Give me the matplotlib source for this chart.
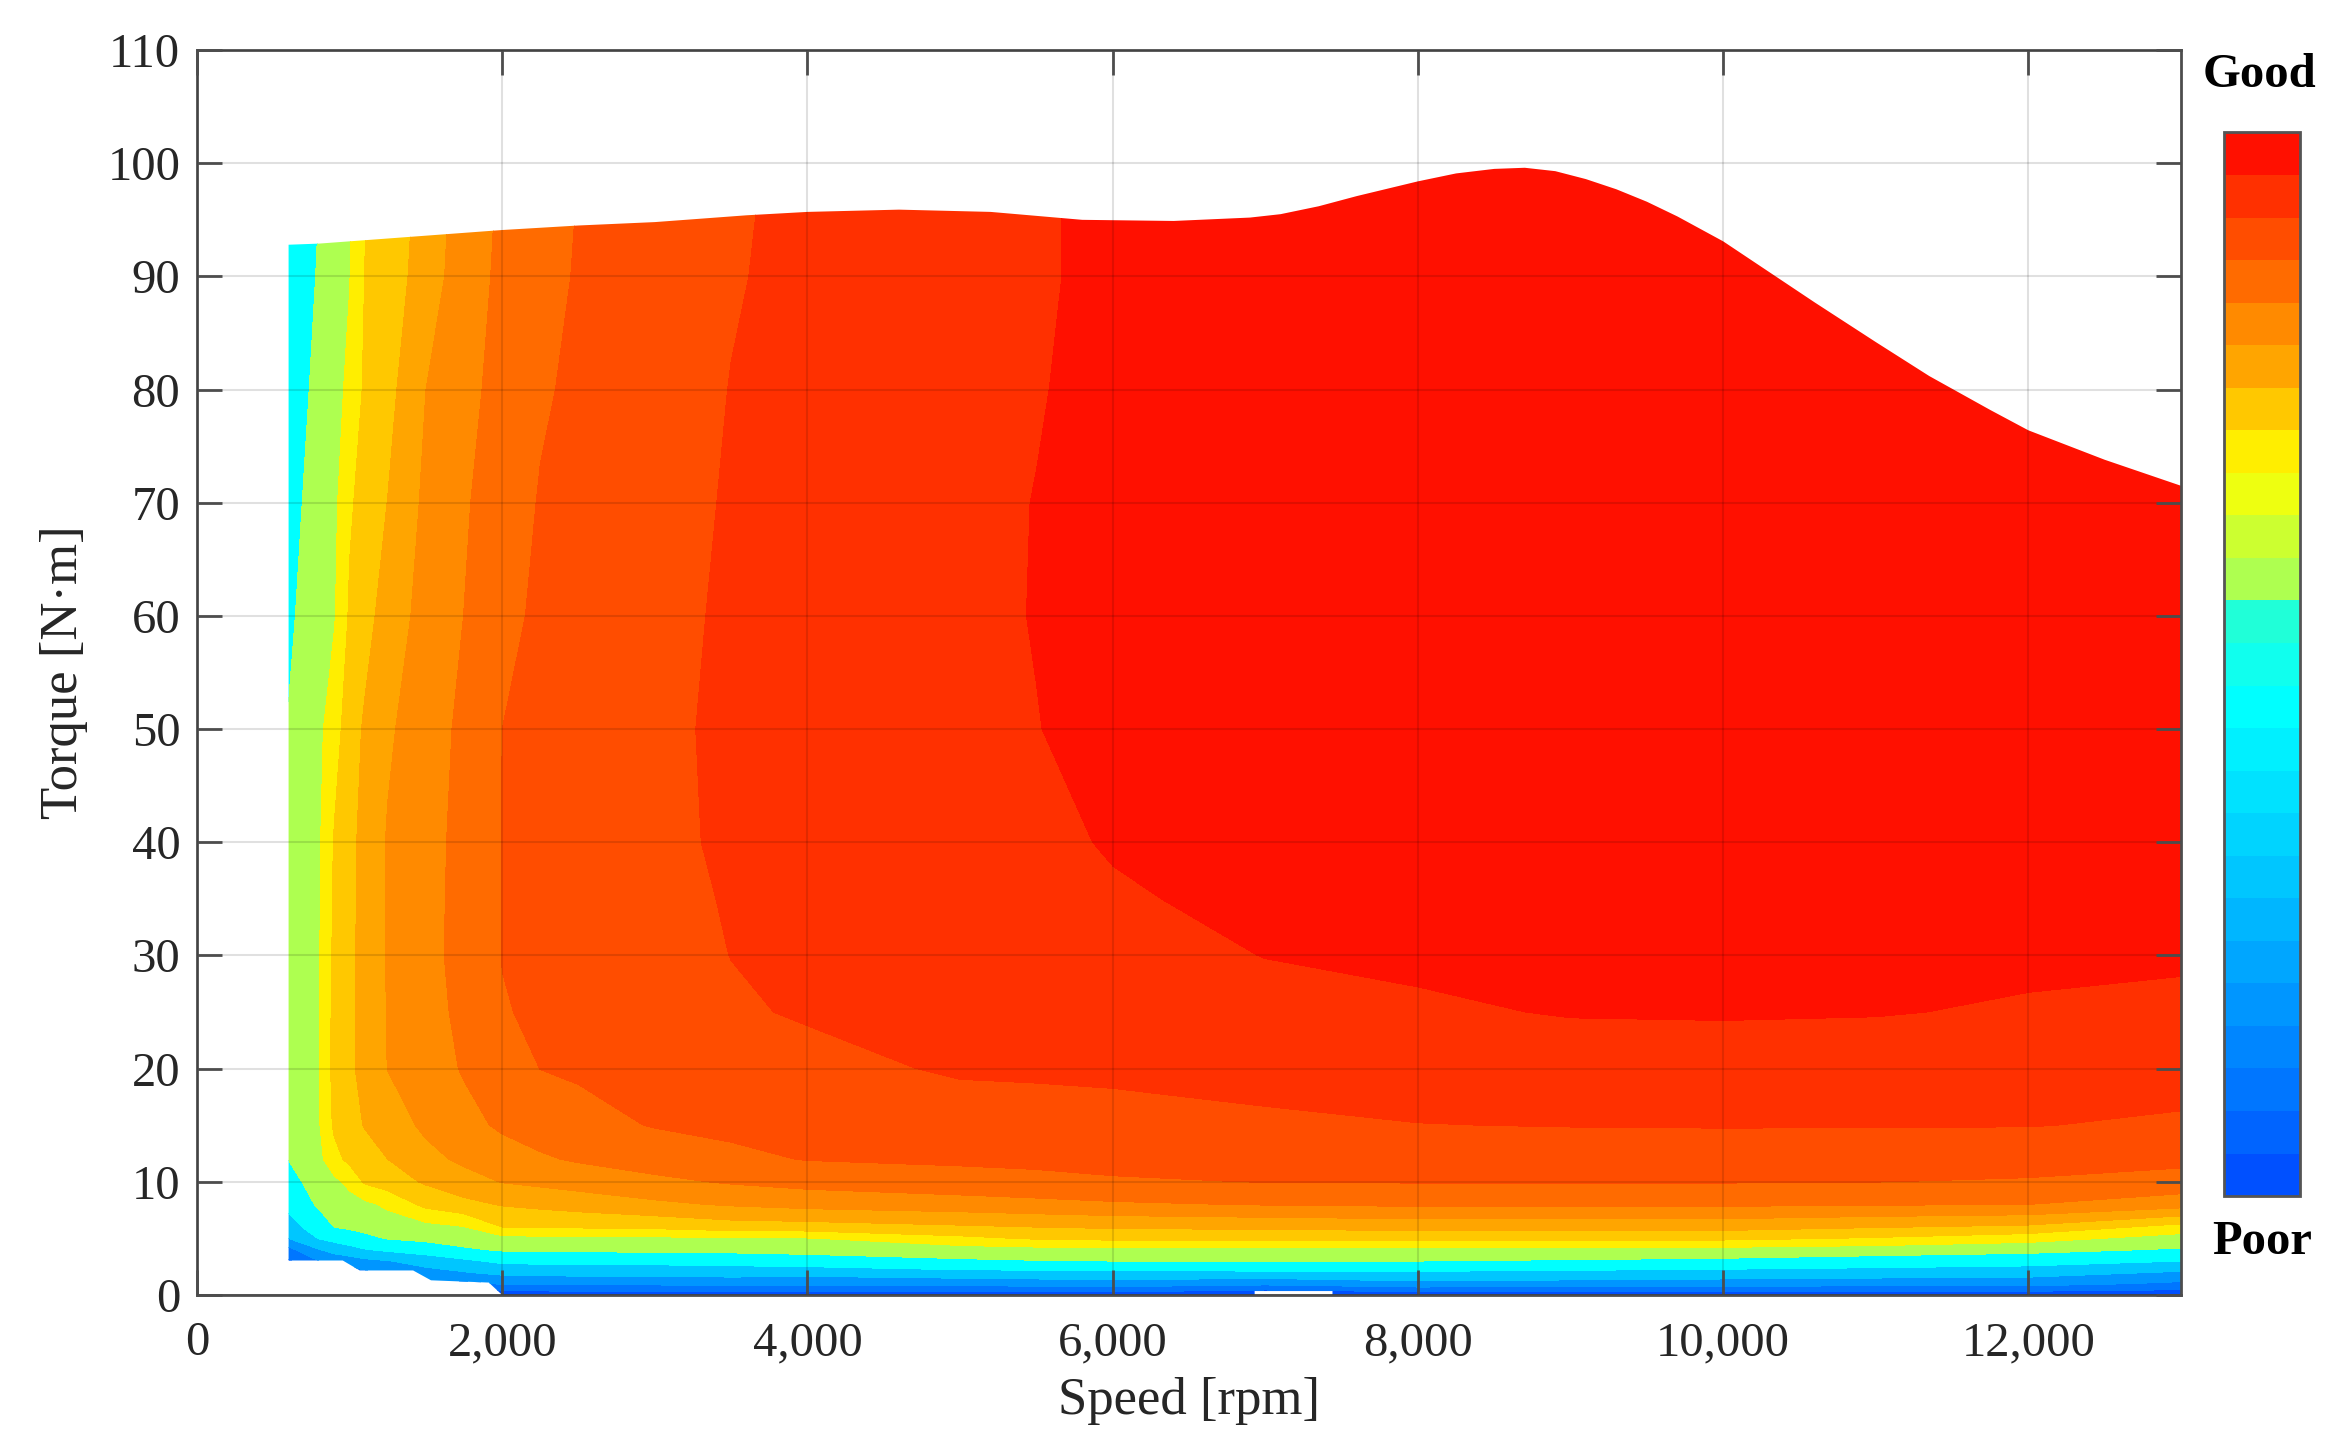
import matplotlib.pyplot as plt
from matplotlib.colors import ListedColormap, Normalize
from matplotlib.cm import ScalarMappable
from matplotlib.path import Path
from matplotlib.patches import PathPatch
from matplotlib.ticker import FuncFormatter
import numpy as np

# efficiency map (speed in rpm, torque in N*m, value ~ efficiency %)
speed = [600, 800, 900, 1000, 1100, 1250, 1500, 1750, 2000, 2250, 2500, 3000,
         3500, 4000, 5000, 5500, 6000, 7000, 8000, 9000, 10000, 11000, 12000, 13000]
torque = [0, 1, 2, 3, 4, 5, 6, 8, 10, 12, 15, 20, 25, 30, 35, 40, 50, 60, 70, 80, 90, 100]

# one column per speed, values listed from torque 0 up to 100
eff_by_speed = [
    [78.5, 79.3, 80.0, 80.9, 81.7, 83.0, 83.6, 84.25, 84.65, 85.02, 85.2, 85.4, 85.45, 85.45, 85.35, 85.25, 85.05, 84.84, 84.67, 84.46, 84.23, 84.0],
    [79.5, 80.3, 81.1, 82.0, 82.95, 84.05, 84.5, 85.14, 85.45, 85.74, 85.93, 85.98, 85.96, 85.94, 85.91, 85.88, 85.78, 85.56, 85.41, 85.26, 85.10, 84.95],
    [79.5, 80.5, 81.5, 82.4, 83.35, 84.34, 85.01, 85.34, 85.76, 86.67, 87.18, 87.33, 87.29, 87.22, 87.15, 87.09, 86.58, 85.92, 85.77, 85.66, 85.54, 85.4],
    [79.5, 80.5, 81.5, 82.5, 83.65, 84.57, 85.12, 85.55, 86.3, 87.26, 87.64, 87.82, 87.80, 87.78, 87.75, 87.72, 87.52, 87.14, 86.86, 86.23, 85.97, 85.8],
    [79.8, 80.8, 81.8, 82.75, 83.94, 84.79, 85.23, 85.75, 87.13, 87.56, 88.06, 88.31, 88.32, 88.33, 88.33, 88.33, 88.14, 87.65, 87.39, 87.17, 87.02, 86.9],
    [80.5, 81.5, 82.4, 82.95, 84.18, 85.05, 85.4, 86.21, 87.51, 88.0, 88.49, 89.02, 89.05, 89.07, 89.08, 89.08, 88.86, 88.44, 88.02, 87.69, 87.46, 87.3],
    [81.0, 82.0, 82.7, 83.37, 84.52, 85.2, 85.67, 87.27, 88.12, 88.7, 89.2, 89.55, 89.63, 89.68, 89.67, 89.66, 89.55, 89.37, 89.21, 89.0, 88.48, 88.3],
    [80.5, 81.8, 82.95, 83.82, 84.86, 85.42, 85.95, 87.73, 88.61, 89.2, 89.72, 90.08, 90.24, 90.35, 90.32, 90.29, 90.21, 90.01, 89.89, 89.71, 89.54, 89.4],
    [80.3, 82.1, 83.3, 84.2, 85.1, 85.7, 87.0, 88.07, 89.04, 89.6, 90.14, 90.55, 90.95, 91.02, 91.02, 91.02, 91.0, 90.77, 90.53, 90.33, 90.2, 90.1],
    [80.35, 82.15, 83.35, 84.25, 85.12, 85.73, 87.05, 88.25, 89.22, 89.88, 90.43, 91.01, 91.12, 91.18, 91.2, 91.21, 91.21, 91.15, 91.06, 90.89, 90.69, 90.6],
    [80.4, 82.2, 83.4, 84.3, 85.15, 85.76, 87.1, 88.43, 89.41, 90.11, 90.72, 91.11, 91.24, 91.35, 91.39, 91.42, 91.42, 91.36, 91.27, 91.17, 91.08, 91.0],
    [80.4, 82.2, 83.4, 84.3, 85.2, 85.8, 87.2, 88.8, 89.78, 90.46, 91.05, 91.32, 91.53, 91.69, 91.76, 91.83, 91.85, 91.78, 91.7, 91.6, 91.51, 91.45],
    [80.5, 82.3, 83.5, 84.35, 85.25, 85.9, 87.5, 89.1, 90.1, 90.8, 91.2, 91.55, 91.9, 92.01, 92.06, 92.11, 92.13, 92.11, 92.07, 92.02, 91.94, 91.9],
    [80.5, 82.2, 83.44, 84.55, 85.31, 85.94, 87.56, 89.33, 90.33, 91.04, 91.3, 91.75, 92.08, 92.16, 92.23, 92.3, 92.35, 92.34, 92.3, 92.26, 92.2, 92.15],
    [80.5, 82.3, 83.75, 84.85, 85.55, 86.75, 87.85, 89.55, 90.62, 91.16, 91.57, 92.1, 92.3, 92.44, 92.56, 92.67, 92.77, 92.8, 92.78, 92.73, 92.67, 92.6],
    [80.45, 82.45, 83.77, 84.95, 85.66, 87.1, 88.0, 89.7, 90.76, 91.2, 91.65, 92.12, 92.34, 92.53, 92.72, 92.86, 92.98, 93.03, 93.02, 92.95, 92.9, 92.9],
    [80.4, 82.57, 83.78, 85.0, 85.77, 87.22, 88.11, 89.86, 90.9, 91.27, 91.72, 92.15, 92.38, 92.62, 92.93, 93.05, 93.25, 93.3, 93.3, 93.25, 93.2, 93.2],
    [80.0, 82.25, 83.88, 85.0, 85.74, 87.24, 88.2, 90.05, 91.02, 91.35, 91.85, 92.3, 92.66, 93.02, 93.15, 93.25, 93.4, 93.45, 93.45, 93.45, 93.4, 93.4],
    [80.3, 82.71, 83.9, 85.0, 85.71, 87.22, 88.33, 90.15, 91.05, 91.42, 91.98, 92.44, 92.88, 93.15, 93.25, 93.35, 93.45, 93.5, 93.5, 93.5, 93.5, 93.5],
    [80.3, 82.6, 83.8, 84.9, 85.69, 87.22, 88.33, 90.15, 91.05, 91.45, 92.03, 92.56, 93.05, 93.2, 93.3, 93.4, 93.5, 93.5, 93.5, 93.5, 93.5, 93.5],
    [80.3, 82.5, 83.7, 84.78, 85.67, 87.22, 88.33, 90.15, 91.05, 91.47, 92.05, 92.6, 93.07, 93.2, 93.3, 93.4, 93.5, 93.5, 93.5, 93.5, 93.5, 93.5],
    [80.3, 82.4, 83.6, 84.57, 85.48, 86.9, 88.05, 90.07, 91.01, 91.44, 92.04, 92.56, 93.04, 93.2, 93.3, 93.4, 93.5, 93.5, 93.5, 93.5, 93.5, 93.5],
    [80.3, 82.4, 83.44, 84.42, 85.27, 86.4, 87.8, 90.0, 90.91, 91.4, 92.03, 92.47, 92.92, 93.15, 93.25, 93.35, 93.45, 93.5, 93.5, 93.5, 93.5, 93.5],
    [80.3, 81.8, 82.9, 84.0, 84.9, 85.56, 86.6, 89.43, 90.64, 91.23, 91.87, 92.38, 92.83, 93.1, 93.2, 93.3, 93.4, 93.45, 93.45, 93.45, 93.45, 93.45],
]

# max torque envelope
env_speed = [600, 800, 1000, 1500, 2000, 2500, 3000, 3600, 4000, 4600, 5200, 5800, 6400,
             6900, 7100, 7350, 7600, 8000, 8250, 8500, 8700, 8900, 9100, 9300, 9500, 9700,
             10000, 10300, 10600, 11000, 11350, 11750, 12000, 12500, 13000]
env_torque = [92.8, 92.9, 93.1, 93.6, 94.1, 94.5, 94.8, 95.4, 95.7, 95.9, 95.7, 95.0, 94.9,
              95.2, 95.5, 96.2, 97.1, 98.4, 99.1, 99.5, 99.6, 99.3, 98.6, 97.7, 96.6, 95.3,
              93.1, 90.4, 87.7, 84.2, 81.2, 78.2, 76.4, 73.8, 71.5]

# lower edge of the mapped region
low_speed = [600, 955, 1066, 1416, 1533, 1912, 2000, 6930, 6930, 7440, 7440, 13000]
low_torque = [3.05, 3.05, 2.17, 2.17, 1.3, 1.1, 0, 0, 0.35, 0.35, 0, 0]

# colour scale, Poor -> Good
bar_colors = ['#0050FF', '#0064FF', '#0076FF', '#0086FF', '#0096FF', '#00A6FF', '#00B6FF',
              '#00C6FF', '#00D4FF', '#00E2FF', '#00F0FF', '#00FFFF', '#10FFEE', '#20FFD8',
              '#AEFF50', '#CCFF30', '#EEFF10', '#FFEE00', '#FFC800', '#FFA500', '#FF8A00',
              '#FF6B00', '#FF4D00', '#FF3000', '#FF1000']
levels = [70, 81, 82, 83, 84, 85, 86, 87, 88, 89, 90, 91, 92, 93, 95]
layer_idx = [0, 2, 4, 7, 11, 14, 17, 18, 19, 20, 21, 22, 23, 24]

plt.rcParams['font.family'] = ['Liberation Serif', 'DejaVu Serif']
txt = '#262626'

fig = plt.figure(figsize=(23.51, 14.51), dpi=100)
ax = fig.add_axes([0.0838, 0.1075, 0.8439, 0.858])

X, Y = np.meshgrid(speed, torque)
Z = np.array(eff_by_speed).T
cs = ax.contourf(X, Y, Z, levels=levels, colors=[bar_colors[i] for i in layer_idx],
                 antialiased=False, zorder=1)

outline = list(zip(low_speed, low_torque)) + list(zip(env_speed[::-1], env_torque[::-1]))
outline.append(outline[0])
clip = PathPatch(Path(outline), transform=ax.transData, facecolor='none', edgecolor='none')
ax.add_patch(clip)
cs.set_clip_path(clip)

ax.set_xlim(0, 13000)
ax.set_ylim(0, 110)
ax.set_xticks(np.arange(0, 13000, 2000))
ax.set_yticks(np.arange(0, 111, 10))
ax.xaxis.set_major_formatter(FuncFormatter(lambda v, p: f'{int(v):,}'))
ax.set_axisbelow(False)
ax.grid(True, color='k', alpha=0.12, lw=1.5)
ax.tick_params(direction='in', length=18, width=2, top=True, right=True,
               labelsize=35, colors='#4d4d4d', labelcolor=txt)
ax.tick_params(axis='x', pad=19)
ax.tick_params(axis='y', pad=12)
for s in ax.spines.values():
    s.set_color('#4d4d4d')
    s.set_linewidth(2)

ax.set_xlabel('Speed [rpm]', fontsize=38, color=txt, labelpad=8)
ax.set_ylabel('Torque [N·m]', fontsize=38, color=txt, labelpad=14)

cax = fig.add_axes([0.946, 0.1757, 0.0323, 0.733])
sm = ScalarMappable(norm=Normalize(0, len(bar_colors)), cmap=ListedColormap(bar_colors))
cb = fig.colorbar(sm, cax=cax, ticks=[])
cb.outline.set_edgecolor('#555555')
cb.outline.set_linewidth(2)

fig.text(2259 / 2351, 1 - 75 / 1451, 'Good', ha='center', va='center',
         fontsize=35, fontweight='bold', color='k')
fig.text(2262 / 2351, 1 - 1242 / 1451, 'Poor', ha='center', va='center',
         fontsize=35, fontweight='bold', color='k')

fig.savefig('out.png', dpi=100)
